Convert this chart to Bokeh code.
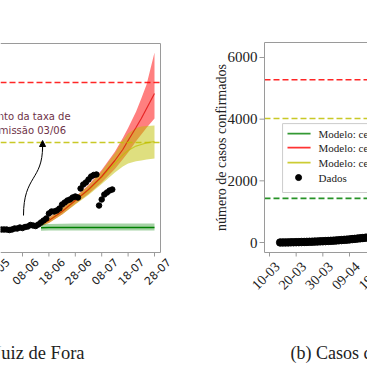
import math
import pandas as pd
from bokeh.plotting import figure
from bokeh.layouts import row
from bokeh.models import Range1d, Arrow, NormalHead, ColumnDataSource
from bokeh.core.properties import value
from bokeh.embed import file_html
from bokeh.resources import INLINE

# ---------------- data: panel (a) Juiz de Fora ----------------
jf_first_day = "2020-05-31"
jf_cases = [475, 475, 475, 462, 475, 500, 500, 525, 512, 538, 550, 588, 575, 562, 600,
            650, 700, 750, 875, 925, 925, 950, 1000, 1100, 1150, 1200, 1225, 1275,
            1300, 1275, 1500, 1600, 1650, 1725, 1800, 1838, 1850, 1075, 1225, 1350,
            1400, 1450, 1475]

model_dates = ["2020-06-15", "2020-06-18", "2020-06-23", "2020-06-28", "2020-07-03",
               "2020-07-08", "2020-07-13", "2020-07-16", "2020-07-18", "2020-07-21",
               "2020-07-23", "2020-07-25", "2020-07-28"]
red_mid = [600, 700, 925, 1200, 1475, 1800, 2200, 2475, 2700, 3025, 3250, 3500, 3875]
red_hi = [650, 770, 1010, 1290, 1590, 1960, 2420, 2760, 3010, 3420, 3750, 4100, 4900]
red_lo = [560, 640, 850, 1110, 1360, 1650, 1990, 2230, 2400, 2680, 2850, 3020, 3250]
yel_mid = [600, 700, 925, 1200, 1450, 1775, 2125, 2340, 2450, 2560, 2600, 2640, 2675]
yel_hi = [640, 760, 1000, 1280, 1570, 1930, 2380, 2700, 2875, 3010, 3050, 3065, 3075]
yel_lo = [560, 640, 850, 1100, 1340, 1610, 1900, 2050, 2125, 2180, 2200, 2225, 2250]
grn_mid = [520, 522, 524, 525, 525, 525, 526, 526, 526, 526, 526, 526, 526]
grn_hi = [610, 615, 620, 622, 624, 625, 626, 627, 627, 628, 628, 628, 628]
grn_lo = [445, 447, 448, 449, 450, 450, 450, 450, 451, 451, 451, 451, 451]
jf_red_level = 4150
jf_yel_level = 2650
jf_ticks = ["2020-05-28", "2020-06-08", "2020-06-18", "2020-06-28", "2020-07-08",
            "2020-07-18", "2020-07-28"]
ann_lines = ["Aumento da taxa de", "transmissão 03/06"]

# ---------------- data: panel (b) ----------------
b_first_day = "2020-03-14"
b_cases = [1, 2, 3, 4, 6, 8, 10, 12, 15, 17, 20, 23, 26, 29, 33, 37, 41, 45, 50, 55,
           60, 66, 72, 79, 86, 93, 101, 110, 118, 127, 136, 145, 155, 165]
b_red_level = 5280
b_yel_level = 4020
b_grn_level = 1430
b_ticks = ["2020-03-10", "2020-03-20", "2020-03-30", "2020-04-09", "2020-04-19"]
b_yticks = [0, 2000, 4000, 6000]
b_ylabel = "número de casos confirmados"
legend_labels = ["Modelo: cenário 1", "Modelo: cenário 2", "Modelo: cenário 3", "Dados"]
captions = ["(a) Casos confirmados em Juiz de Fora", "(b) Casos confirmados em Minas Gerais"]

# ---------------- helpers ----------------
DAY = 86400000


def ms(s):
    return int(pd.Timestamp(s).value // 10**6)


def dm(s):
    return pd.Timestamp(s).strftime("%d-%m")


RED = "#ff0000"
YEL = "#bfbf00"
GRN = "#008000"
FRAME = "#9a9a9a"
TXT = "#222222"
SERIF = "Liberation Serif"
SANS = "DejaVu Sans"


def bare_figure(w, xr, yr):
    p = figure(width=w, height=367, x_axis_type="datetime", x_range=xr, y_range=yr,
               output_backend="svg", toolbar_location=None,
               min_border_left=0, min_border_right=0, min_border_top=0, min_border_bottom=0)
    p.axis.visible = False
    p.grid.visible = False
    p.outline_line_color = None
    return p


# ================= panel (a) =================
# Each panel's frame fills its whole column of the page, so that the window edges
# cut the axes, labels and captions exactly where the reference is cropped.
A_PX = 25                                 # data units per pixel (vertical)
A_DPX = 2.64                              # pixels per day
a_ref = ms("2020-06-08")
a_x0 = a_ref - 22 / A_DPX * DAY
a_x1 = a_ref + 156 / A_DPX * DAY
a_border = a_ref + 138 / A_DPX * DAY      # right spine
a_spine, a_top = -100, 5125
a_y1 = a_spine + 252 * A_PX
a_y0 = a_spine - 115 * A_PX

p1 = bare_figure(178, Range1d(a_x0, a_x1), Range1d(a_y0, a_y1))

md = pd.to_datetime(model_dates)
src_m = ColumnDataSource(dict(x=md, rm=red_mid, rh=red_hi, rl=red_lo,
                              ym=yel_mid, yh=yel_hi, yl=yel_lo,
                              gm=grn_mid, gh=grn_hi, gl=grn_lo))
p1.varea(x="x", y1="rl", y2="rh", source=src_m, fill_color=RED, fill_alpha=0.5)
p1.varea(x="x", y1="yl", y2="yh", source=src_m, fill_color=YEL, fill_alpha=0.5)
p1.varea(x="x", y1="gl", y2="gh", source=src_m, fill_color=GRN, fill_alpha=0.35)
p1.line(x="x", y="gm", source=src_m, line_color=GRN, line_width=1.5)
p1.line(x="x", y="ym", source=src_m, line_color=YEL, line_width=1.2, line_alpha=0.7)
p1.line(x="x", y="rm", source=src_m, line_color="#dd0000", line_width=1.2, line_alpha=0.7)

p1.segment(x0=[a_x0, a_x0], y0=[jf_red_level, jf_yel_level],
           x1=[a_border, a_border], y1=[jf_red_level, jf_yel_level],
           line_color=[RED, YEL], line_width=1.6, line_dash="6 3", line_alpha=0.85)

jd = pd.date_range(jf_first_day, periods=len(jf_cases), freq="D")
p1.scatter(x=jd, y=jf_cases, size=5.5, fill_color="black", line_color="black")

# annotation text and arrow
ann_x = a_ref - 1.1 * DAY
p1.text(x=[ann_x, ann_x], y=[3300, 2950], text=ann_lines,
        text_font=value(SANS), text_font_size=value("10px"),
        text_color="#6e3247", text_align="center", text_baseline="middle")
ax0 = a_ref + 0.38 * DAY
ax1 = a_ref + 7.6 * DAY
p1.bezier(x0=[ax0], y0=[825], x1=[ax1], y1=[2550], cx0=[ax0], cy0=[1825],
          cx1=[ax1], cy1=[1700], line_color="black", line_width=1)
p1.add_layout(Arrow(end=NormalHead(size=6, fill_color="black", line_color="black"),
                    x_start=ax1, y_start=2450, x_end=ax1, y_end=2700,
                    line_color="black", line_width=1))

# spines: top, right, bottom
p1.segment(x0=[a_x0, a_border, a_x0], y0=[a_top, a_spine, a_spine],
           x1=[a_border, a_border, a_border], y1=[a_top, a_top, a_spine],
           line_color=FRAME, line_width=1)
# tick marks and rotated tick labels centred under the ticks
a_tx = [ms(t) for t in jf_ticks]
p1.segment(x0=a_tx, y0=[a_spine] * len(a_tx), x1=a_tx,
           y1=[a_spine - 4 * A_PX] * len(a_tx), line_color=FRAME, line_width=1)
p1.text(x=[t + 3 / A_DPX * DAY for t in a_tx], y=[a_spine - 19 * A_PX] * len(a_tx),
        text=[dm(t) for t in jf_ticks], angle=math.pi / 4,
        text_font=value(SANS), text_font_size=value("11px"), text_color=TXT,
        text_align="center", text_baseline="middle")
# caption
p1.text(x=[a_ref + 62 / A_DPX * DAY], y=[a_spine - 100 * A_PX], text=[captions[0]],
        text_font=value(SERIF), text_font_size=value("18.5px"), text_color=TXT,
        text_align="right", text_baseline="alphabetic")

# ================= panel (b) =================
B_PX = 32.43
B_DPX = 2.667
b_ref = ms("2020-03-10")
b_x0 = b_ref - 91 / B_DPX * DAY
b_x1 = b_ref + 98 / B_DPX * DAY
b_left = b_ref - 5 / B_DPX * DAY          # left spine (y axis line)
b_spine = -10 * B_PX
b_top = 200 * B_PX
b_y1 = 242 * B_PX
b_y0 = -125 * B_PX

p2 = bare_figure(189, Range1d(b_x0, b_x1), Range1d(b_y0, b_y1))

p2.segment(x0=[b_left] * 3, y0=[b_red_level, b_yel_level, b_grn_level],
           x1=[b_x1] * 3, y1=[b_red_level, b_yel_level, b_grn_level],
           line_color=[RED, YEL, GRN], line_width=1.6, line_dash="6 3", line_alpha=0.85)

bd = pd.date_range(b_first_day, periods=len(b_cases), freq="D")
p2.scatter(x=bd, y=b_cases, size=7.5, fill_color="black", line_color="black")

# legend (drawn as glyphs so the window edge cuts it like the reference)
p2.quad(left=[b_ref + 4.9 * DAY], right=[b_ref + 60 * DAY], bottom=[1620], top=[3856],
        fill_color="white", fill_alpha=0.8, line_color="#cccccc", line_width=1)
entry_y = [3532, 3078, 2592, 2106]
for yy, col in zip(entry_y[:3], [GRN, RED, YEL]):
    p2.line(x=[b_ref + 6.75 * DAY, b_ref + 15.4 * DAY], y=[yy, yy], line_color=col,
            line_width=1.8, line_alpha=0.8)
p2.scatter(x=[b_ref + 10.9 * DAY], y=[entry_y[3]], size=6, fill_color="black",
           line_color="black")
p2.text(x=[b_ref + 18.4 * DAY] * 4, y=entry_y, text=legend_labels,
        text_font=value(SERIF), text_font_size=value("11px"), text_color=TXT,
        text_align="left", text_baseline="middle")

# spines: left, top, bottom
p2.segment(x0=[b_left, b_left, b_left], y0=[b_spine, b_top, b_spine],
           x1=[b_left, b_x1, b_x1], y1=[b_top, b_top, b_spine],
           line_color=FRAME, line_width=1)
# y ticks, y tick labels, y axis label
p2.segment(x0=[b_left - 5 / B_DPX * DAY] * len(b_yticks), y0=b_yticks,
           x1=[b_left] * len(b_yticks), y1=b_yticks, line_color=FRAME, line_width=1)
p2.text(x=[b_left - 7 / B_DPX * DAY] * len(b_yticks), y=b_yticks,
        text=[str(v) for v in b_yticks], text_font=value(SERIF),
        text_font_size=value("15px"), text_color=TXT, text_align="right",
        text_baseline="middle")
p2.text(x=[b_left - 43 / B_DPX * DAY], y=[95 * B_PX], text=[b_ylabel],
        angle=math.pi / 2, text_font=value(SERIF), text_font_size=value("14px"),
        text_color=TXT, text_align="center", text_baseline="middle")
# x ticks and rotated labels
b_tx = [ms(t) for t in b_ticks]
p2.segment(x0=b_tx, y0=[b_spine] * len(b_tx), x1=b_tx,
           y1=[b_spine - 4 * B_PX] * len(b_tx), line_color=FRAME, line_width=1)
p2.text(x=[t - 4 / B_DPX * DAY for t in b_tx], y=[b_spine - 23 * B_PX] * len(b_tx),
        text=[dm(t) for t in b_ticks], angle=math.pi / 4,
        text_font=value(SERIF), text_font_size=value("14px"), text_color=TXT,
        text_align="center", text_baseline="middle")
# caption
p2.text(x=[b_ref + 21 / B_DPX * DAY], y=[-110 * B_PX], text=[captions[1]],
        text_font=value(SERIF), text_font_size=value("18px"), text_color=TXT,
        text_align="left", text_baseline="alphabetic")

layout = row(p1, p2)
open("out.html", "w").write(file_html(layout, INLINE))
